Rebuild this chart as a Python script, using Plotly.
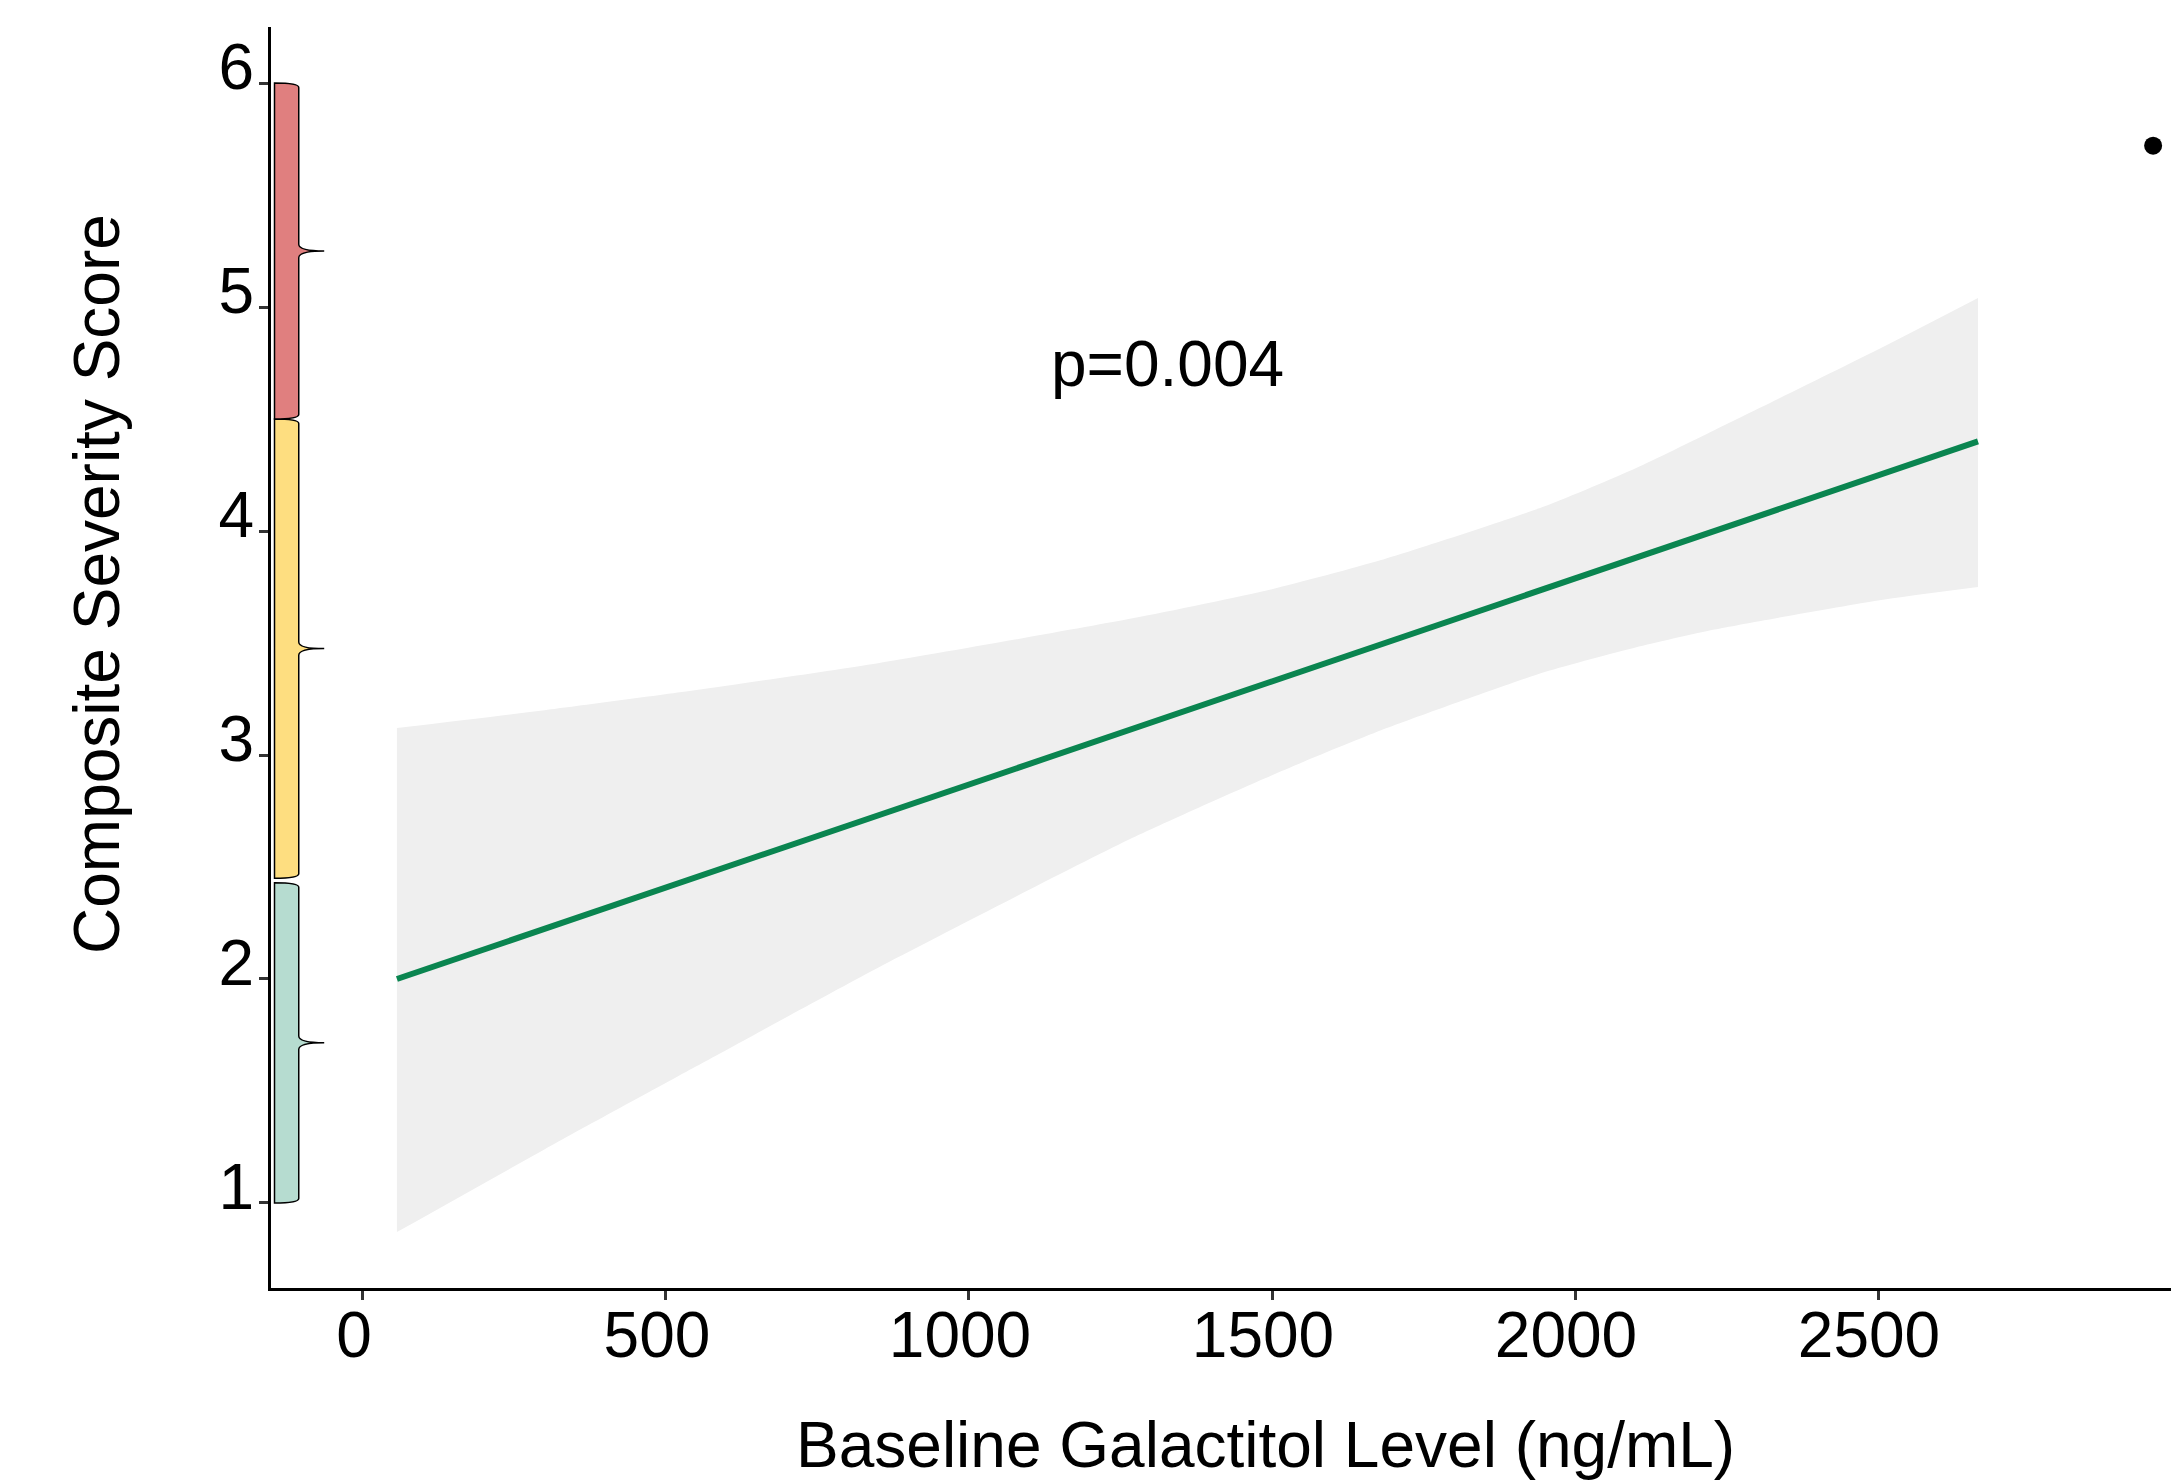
import plotly.graph_objects as go

# ---- data ----
fit_x = [56, 2665]
fit_y = [2.00, 4.40]

band_x = [56, 300, 550, 850, 1270, 1500, 1680, 1950, 2100, 2230, 2500, 2665]
band_upper = [3.12, 3.20, 3.29, 3.41, 3.61, 3.74, 3.87, 4.11, 4.28, 4.45, 4.81, 5.04]
band_lower = [0.87, 1.24, 1.61, 2.05, 2.63, 2.91, 3.11, 3.37, 3.48, 3.56, 3.69, 3.75]

point_x = [2954]
point_y = [5.72]

bracket_low = [1.00, 2.45, 4.50]
bracket_high = [2.43, 4.50, 6.00]
bracket_colors = ["#b6dcd0", "#fede80", "#e07f7f"]

x_ticks = [0, 500, 1000, 1500, 2000, 2500]
y_ticks = [1, 2, 3, 4, 5, 6]

p_label = "p=0.004"
p_pos = (1327, 4.745)

x_title = "Baseline Galactitol Level (ng/mL)"
y_title = "Composite Severity Score"

FONT = "Liberation Sans, Arial, sans-serif"
FS = 64

fig = go.Figure()

# confidence band (lower edge, then upper edge filled down to it)
fig.add_trace(go.Scatter(
    x=band_x, y=band_lower, mode="lines",
    line=dict(width=0, shape="spline", smoothing=0.6),
    hoverinfo="skip", showlegend=False,
))
fig.add_trace(go.Scatter(
    x=band_x, y=band_upper, mode="lines", fill="tonexty", fillcolor="#efefef",
    line=dict(width=0, shape="spline", smoothing=0.6),
    hoverinfo="skip", showlegend=False,
))
# fitted line
fig.add_trace(go.Scatter(
    x=fit_x, y=fit_y, mode="lines",
    line=dict(color="#0a8550", width=6), showlegend=False,
))
# single point
fig.add_trace(go.Scatter(
    x=point_x, y=point_y, mode="markers",
    marker=dict(color="black", size=18), showlegend=False,
))

# curly-brace brackets along the y axis
xl, xv, xt = -146, -106, -64
d_end, d_mid = 0.02, 0.03
shapes = []
for lo, hi, col in zip(bracket_low, bracket_high, bracket_colors):
    ym = (lo + hi) / 2
    path = (
        f"M {xl},{hi} "
        f"Q {xv},{hi} {xv},{hi - d_end} "
        f"L {xv},{ym + d_mid} "
        f"Q {xv},{ym} {xt},{ym} "
        f"Q {xv},{ym} {xv},{ym - d_mid} "
        f"L {xv},{lo + d_end} "
        f"Q {xv},{lo} {xl},{lo} Z"
    )
    shapes.append(dict(type="path", path=path, xref="x", yref="y",
                       fillcolor=col, line=dict(color="black", width=1.5),
                       layer="above"))

fig.add_annotation(x=p_pos[0], y=p_pos[1], text=p_label, showarrow=False,
                   font=dict(family=FONT, size=FS, color="black"))

# axis titles (positioned as in the reference, whose panel was cropped)
fig.add_annotation(x=0.521, y=-0.1245, xref="paper", yref="paper",
                   text=x_title, showarrow=False, xanchor="center", yanchor="middle",
                   font=dict(family=FONT, size=FS, color="black"))
fig.add_annotation(x=-0.0912, y=0.5583, xref="paper", yref="paper",
                   text=y_title, showarrow=False, textangle=-90,
                   xanchor="center", yanchor="middle",
                   font=dict(family=FONT, size=FS, color="black"))

fig.update_layout(
    width=2179, height=1483,
    margin=dict(l=263, r=8, t=19, b=203),
    paper_bgcolor="white", plot_bgcolor="white",
    shapes=shapes,
    font=dict(family=FONT, color="black"),
    showlegend=False,
)
fig.update_xaxes(
    range=[-151.8, 2996.7], tickvals=x_ticks,
    showgrid=False, zeroline=False,
    showline=True, linecolor="black", linewidth=3,
    ticks="outside", ticklen=9, tickwidth=3, tickcolor="#333333",
    tickfont=dict(family=FONT, size=FS, color="black"),
    ticklabelstandoff=-20, ticklabelshift=-9,
)
fig.update_yaxes(
    range=[0.6205, 6.25], tickvals=y_ticks,
    showgrid=False, zeroline=False,
    showline=True, linecolor="black", linewidth=3,
    ticks="outside", ticklen=9, tickwidth=3, tickcolor="#333333",
    tickfont=dict(family=FONT, size=FS, color="black"),
    ticklabelstandoff=-8, ticklabelshift=-16,
)

fig.write_html("out.html")
